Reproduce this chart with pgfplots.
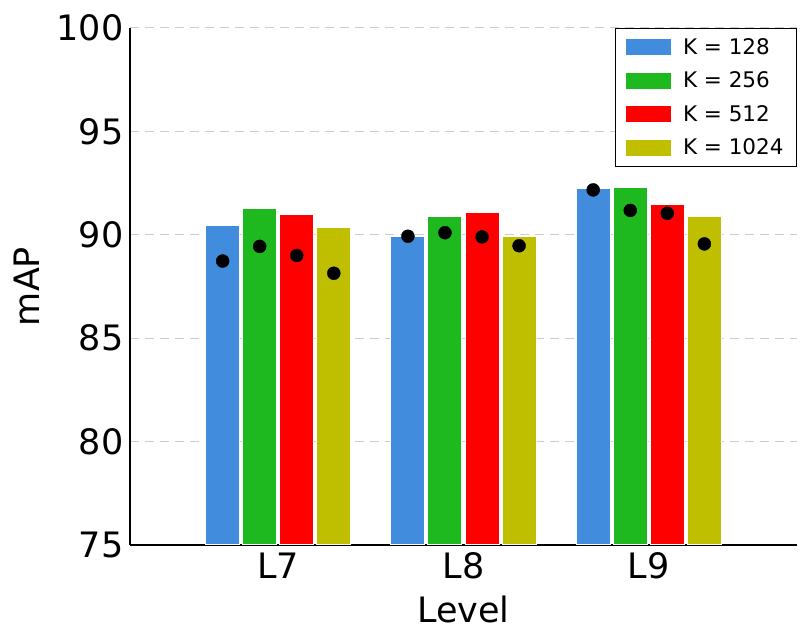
\documentclass[border=0pt]{standalone}
\usepackage{pgfplots}
\pgfplotsset{compat=1.18}
\usepackage{fontspec}
\setmainfont{DejaVu Sans}
\definecolor{cblue}{HTML}{418CDC}
\definecolor{cgreen}{HTML}{1EB91E}
\definecolor{cred}{HTML}{FF0000}
\definecolor{cyel}{HTML}{BFBF00}
\pgfplotsset{
  mybar/.style={ybar, bar width=34pt, bar shift=0pt, fill=#1, draw=white, line width=1pt,
    legend image code/.code={\path[fill=#1, draw=none] (0pt,-8pt) rectangle (45pt,8pt); \path[draw=none, fill=none] (55pt,-1pt) rectangle (55pt,1pt);}},
}
\begin{document}
\begin{tikzpicture}
\begin{axis}[name=ax,
  scale only axis, width=667pt, height=517pt,
  xmin=-0.8, xmax=2.8, ymin=75, ymax=100,
  xtick={0,1,2}, xticklabels={L7,L8,L9},
  ytick={75,80,85,90,95,100},
  axis x line*=bottom, axis y line*=left,
  axis line style={line width=1.3pt, black, -},
  major tick length=0pt,
  ymajorgrids,
  grid style={line width=1pt, color=black!20, dash pattern=on 9pt off 6pt},
  /pgf/number format/assume math mode=true,
  tick label style={font=\fontsize{35}{40}\selectfont, black},
  yticklabel style={xshift=-3pt},
  xticklabel style={yshift=-4pt},
  label style={font=\fontsize{35}{40}\selectfont},
  xlabel={Level}, ylabel={mAP},
  xlabel style={yshift=-10pt},
  ylabel style={yshift=10pt},
  legend cell align=left,
  legend style={at={(1,1)}, anchor=north east, draw=black, line width=1pt,
    font=\fontsize{21.5}{24}\selectfont, inner xsep=11pt, inner ysep=8pt,
    row sep=12pt},
]
\addplot[mybar=cblue]
  coordinates {(-0.3,90.43) (0.7,89.90) (1.7,92.26)};
\addlegendentry{K = 128}
\addplot[mybar=cgreen]
  coordinates {(-0.1,91.28) (0.9,90.90) (1.9,92.30)};
\addlegendentry{K = 256}
\addplot[mybar=cred]
  coordinates {(0.1,91.00) (1.1,91.10) (2.1,91.46)};
\addlegendentry{K = 512}
\addplot[mybar=cyel]
  coordinates {(0.3,90.33) (1.3,89.93) (2.3,90.88)};
\addlegendentry{K = 1024}
\addplot[only marks, mark=*, mark size=6.5pt, black, forget plot]
  coordinates {(-0.3,88.73) (-0.1,89.44) (0.1,89.00) (0.3,88.14)
               (0.7,89.93) (0.9,90.10) (1.1,89.90) (1.3,89.47)
               (1.7,92.17) (1.9,91.18) (2.1,91.04) (2.3,89.56)};
\end{axis}
\pgfresetboundingbox
\path ([shift={(-130pt,-94pt)}]ax.south west) rectangle ([shift={(11pt,28pt)}]ax.north east);
\end{tikzpicture}
\end{document}
